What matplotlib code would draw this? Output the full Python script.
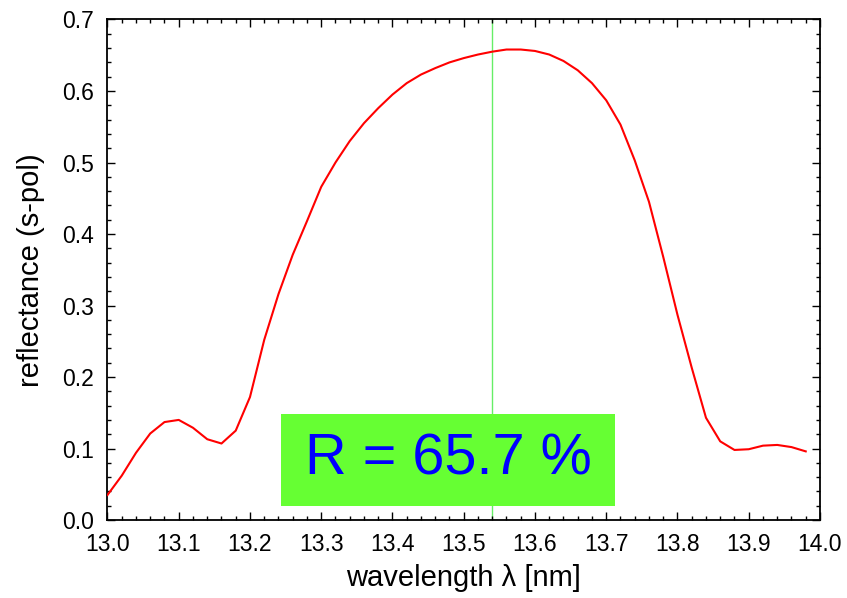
import matplotlib
matplotlib.use("Agg")
import matplotlib.pyplot as plt
from matplotlib.ticker import MultipleLocator, FormatStrFormatter

plt.rcParams['font.family'] = ['Liberation Sans', 'DejaVu Sans']

wavelength = [13.00, 13.02, 13.04, 13.06, 13.08, 13.10, 13.12, 13.14, 13.16, 13.18,
              13.20, 13.22, 13.24, 13.26, 13.28, 13.30, 13.32, 13.34, 13.36, 13.38,
              13.40, 13.42, 13.44, 13.46, 13.48, 13.50, 13.52, 13.54, 13.56, 13.58,
              13.60, 13.62, 13.64, 13.66, 13.68, 13.70, 13.72, 13.74, 13.76, 13.78,
              13.80, 13.82, 13.84, 13.86, 13.88, 13.90, 13.92, 13.94, 13.96, 13.98]
reflectance = [0.035, 0.062, 0.094, 0.121, 0.137, 0.140, 0.129, 0.113, 0.107, 0.125,
               0.172, 0.252, 0.316, 0.371, 0.418, 0.466, 0.500, 0.530, 0.555, 0.576,
               0.595, 0.611, 0.623, 0.632, 0.640, 0.646, 0.651, 0.655, 0.658, 0.658,
               0.656, 0.651, 0.642, 0.629, 0.611, 0.587, 0.553, 0.503, 0.445, 0.368,
               0.287, 0.213, 0.143, 0.110, 0.098, 0.099, 0.104, 0.105, 0.102, 0.096]
peak_wavelength = 13.54
label_text = "R = 65.7 %"
box_x = [13.244, 13.713]
box_y = [0.020, 0.148]

fig = plt.figure(figsize=(8.47, 5.98), dpi=100)
ax = fig.add_axes([0.1269, 0.1304, 0.9681 - 0.1269, 0.9674 - 0.1304])

ax.axvline(peak_wavelength, color='#66ee66', lw=1.0, zorder=1)
ax.fill_between(box_x, box_y[0], box_y[1], color='#66ff33', lw=0, zorder=2)
ax.text(sum(box_x) / 2, sum(box_y) / 2, label_text, color='#0000ff', fontsize=41.5,
        ha='center', va='center', zorder=4)
ax.plot(wavelength, reflectance, color='#ff0000', lw=1.5, zorder=3)

ax.set_xlim(13.0, 14.0)
ax.set_ylim(0.0, 0.7)
ax.xaxis.set_major_locator(MultipleLocator(0.1))
ax.xaxis.set_minor_locator(MultipleLocator(0.02))
ax.yaxis.set_major_locator(MultipleLocator(0.1))
ax.yaxis.set_minor_locator(MultipleLocator(0.02))
ax.xaxis.set_major_formatter(FormatStrFormatter('%.1f'))
ax.yaxis.set_major_formatter(FormatStrFormatter('%.1f'))
ax.tick_params(which='both', direction='in', top=True, right=True, width=1.0, colors='black')
ax.tick_params(which='major', length=6, labelsize=16.5)
ax.tick_params(axis='y', which='major', pad=10)
ax.tick_params(axis='x', which='major', pad=9)
ax.tick_params(which='minor', length=3)
for s in ax.spines.values():
    s.set_linewidth(1.3)

ax.set_xlabel('wavelength λ [nm]', fontsize=21, labelpad=6)
ax.set_ylabel('reflectance (s-pol)', fontsize=21, labelpad=12)

fig.savefig('out.png', dpi=100)
